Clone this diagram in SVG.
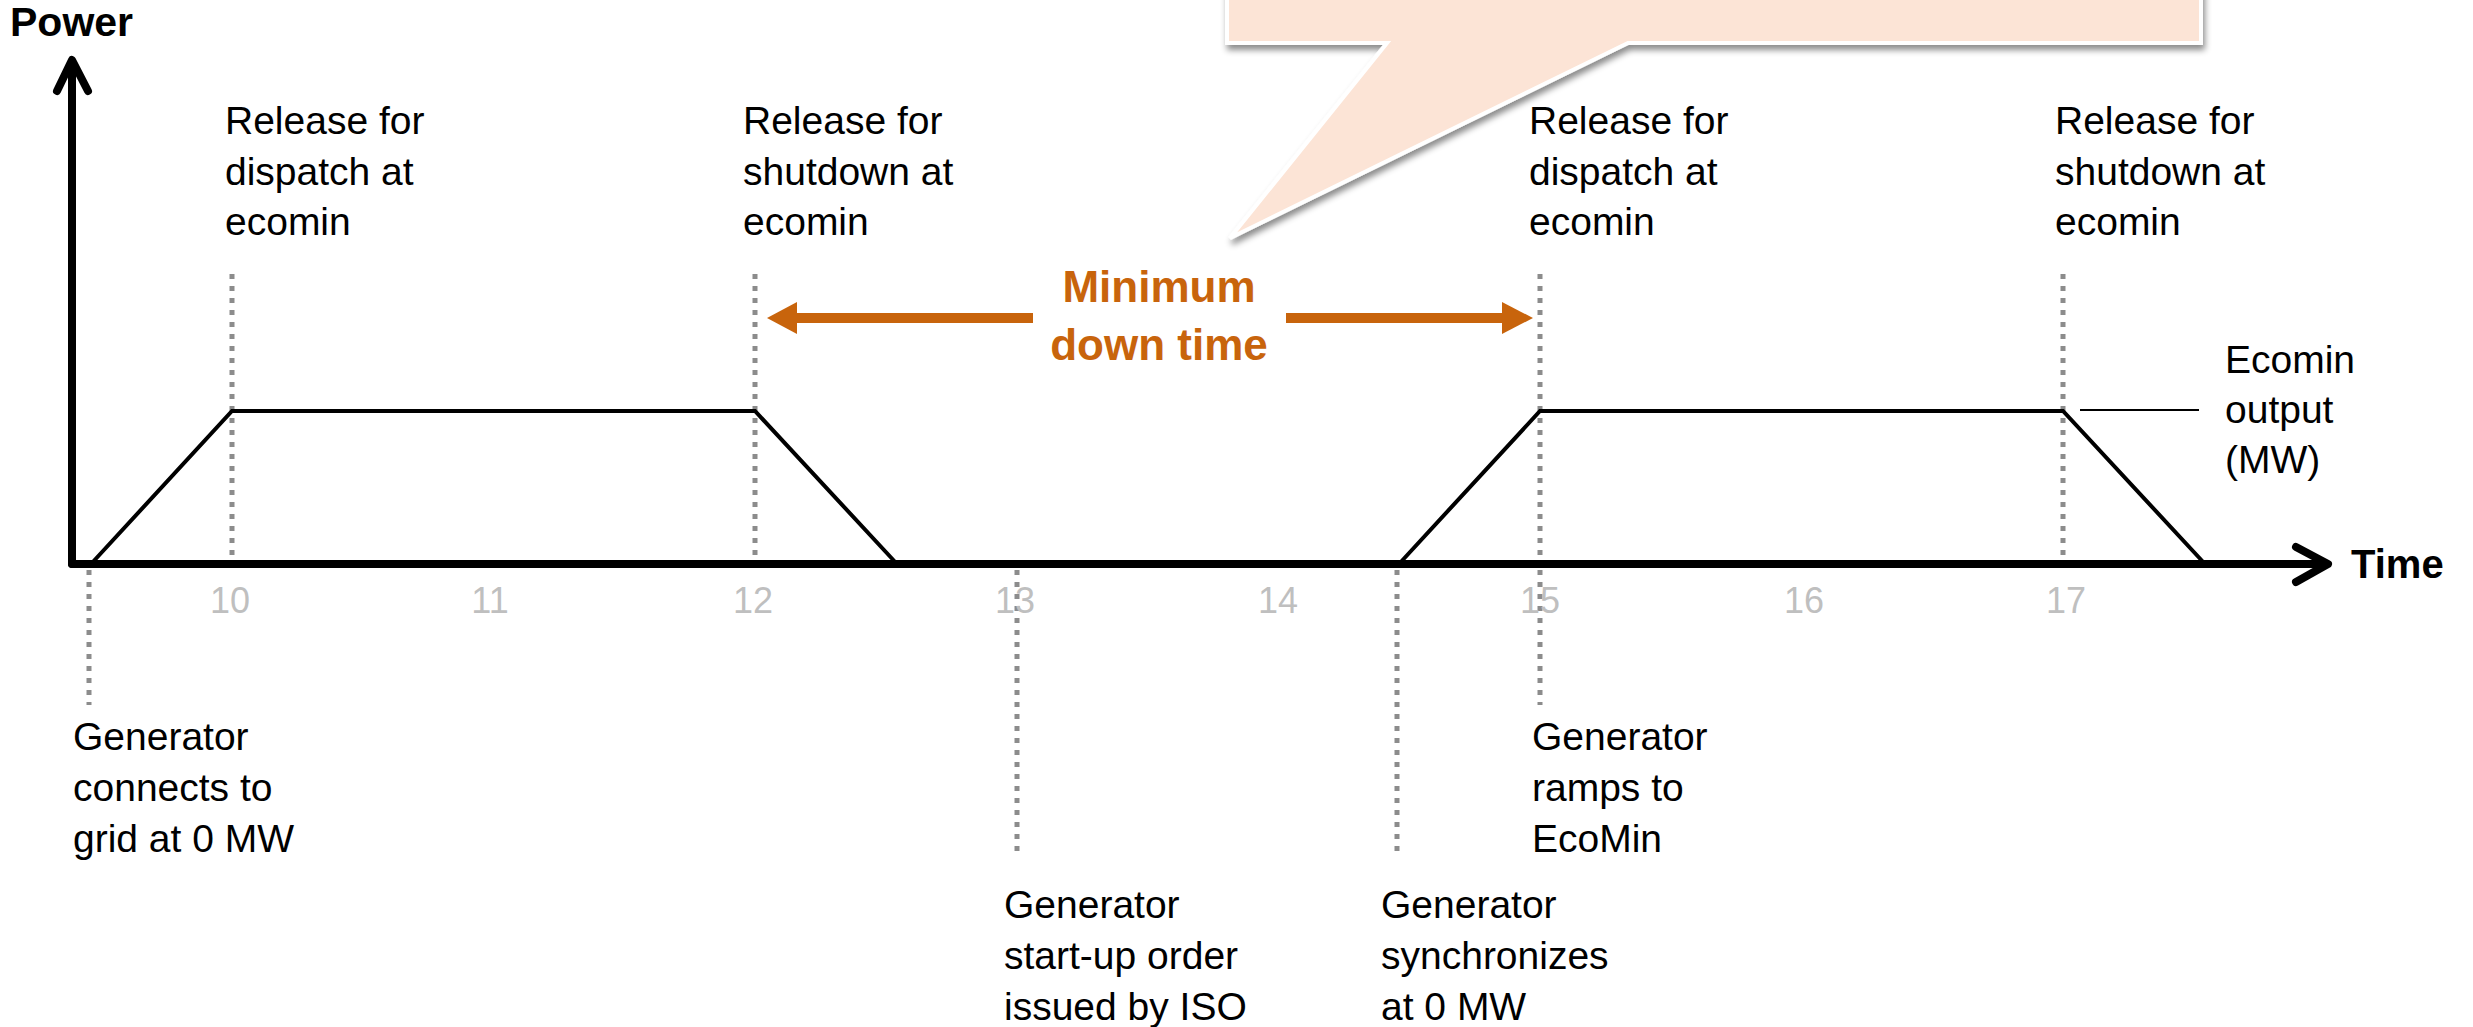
<svg xmlns="http://www.w3.org/2000/svg" width="2473" height="1027" viewBox="0 0 2473 1027">
  <defs>
    <filter id="shadow" x="-5%" y="-20%" width="115%" height="150%">
      <feDropShadow dx="2" dy="5" stdDeviation="3" flood-color="#000000" flood-opacity="0.45"/>
    </filter>
  </defs>
  <style>
    .lbl { font-family: "Liberation Sans", Arial, sans-serif; font-size: 39px; fill: #000000; }
    .axt { font-family: "Liberation Sans", Arial, sans-serif; font-size: 41px; font-weight: bold; fill: #000000; }
    .num { font-family: "Liberation Sans", Arial, sans-serif; font-size: 36px; fill: #BFBFBF; text-anchor: middle; }
    .mdt { font-family: "Liberation Sans", Arial, sans-serif; font-size: 44px; font-weight: bold; fill: #C8640C; text-anchor: middle; }
    .dot { stroke: #8C8C8C; stroke-width: 5; stroke-dasharray: 5 7; fill: none; }
    .axis { stroke: #000000; stroke-width: 8; fill: none; stroke-linecap: round; stroke-linejoin: round; }
    .trace { stroke: #000000; stroke-width: 4; fill: none; stroke-linejoin: miter; }
    .orange { fill: #C8640C; }
  </style>
  <rect x="0" y="0" width="2473" height="1027" fill="#FFFFFF"/>

  <!-- Callout -->
  <g id="callout">
    <path d="M1227,-10 H2201 V43 H1628 L1230,238 L1387,43 H1227 Z" fill="#FCE4D6" stroke="#FFFFFF" stroke-width="4" stroke-linejoin="miter" filter="url(#shadow)"/>
  </g>

  <!-- Dotted guide lines -->
  <g id="guides">
    <line class="dot" x1="232" y1="274" x2="232" y2="560"/>
    <line class="dot" x1="755" y1="274" x2="755" y2="560"/>
    <line class="dot" x1="1540" y1="274" x2="1540" y2="560"/>
    <line class="dot" x1="2063" y1="274" x2="2063" y2="560"/>
    <line class="dot" x1="89" y1="570" x2="89" y2="705"/>
    <line class="dot" x1="1017" y1="570" x2="1017" y2="852"/>
    <line class="dot" x1="1397" y1="570" x2="1397" y2="852"/>
    <line class="dot" x1="1540" y1="570" x2="1540" y2="705"/>
  </g>

  <!-- Axes -->
  <g id="axes">
    <line class="axis" x1="72" y1="564" x2="72" y2="62"/>
    <polyline class="axis" points="57,91 72,60 88,91"/>
    <line class="axis" x1="72" y1="564" x2="2326" y2="564"/>
    <polyline class="axis" points="2296,547 2328,564 2296,582"/>
    <text class="axt" x="10" y="36">Power</text>
    <text class="axt" x="2351" y="578" style="font-size:40px">Time</text>
  </g>

  <!-- Power trace -->
  <g id="trace">
    <polyline class="trace" points="91,564 232,411 755,411 897,564"/>
    <polyline class="trace" points="1399,564 1540,411 2063,411 2205,564"/>
    <line x1="2080" y1="410" x2="2199" y2="410" stroke="#000000" stroke-width="2"/>
  </g>

  <!-- Tick labels -->
  <g id="ticks">
    <text class="num" x="230" y="613">10</text>
    <text class="num" x="490" y="613">11</text>
    <text class="num" x="753" y="613">12</text>
    <text class="num" x="1015" y="613">13</text>
    <text class="num" x="1278" y="613">14</text>
    <text class="num" x="1540" y="613">15</text>
    <text class="num" x="1804" y="613">16</text>
    <text class="num" x="2066" y="613">17</text>
  </g>

  <!-- Minimum down time -->
  <g id="min-down-time">
    <rect class="orange" x="795" y="313" width="238" height="10"/>
    <polygon class="orange" points="767,318 797,302 797,334"/>
    <rect class="orange" x="1286" y="313" width="218" height="10"/>
    <polygon class="orange" points="1533,318 1502,302 1502,334"/>
    <text class="mdt" x="1159" y="302">Minimum</text>
    <text class="mdt" x="1159" y="360">down time</text>
  </g>

  <!-- Top labels -->
  <g id="label-dispatch-1">
    <text class="lbl" x="225" y="134">Release for</text>
    <text class="lbl" x="225" y="185">dispatch at</text>
    <text class="lbl" x="225" y="235">ecomin</text>
  </g>
  <g id="label-shutdown-1">
    <text class="lbl" x="743" y="134">Release for</text>
    <text class="lbl" x="743" y="185">shutdown at</text>
    <text class="lbl" x="743" y="235">ecomin</text>
  </g>
  <g id="label-dispatch-2">
    <text class="lbl" x="1529" y="134">Release for</text>
    <text class="lbl" x="1529" y="185">dispatch at</text>
    <text class="lbl" x="1529" y="235">ecomin</text>
  </g>
  <g id="label-shutdown-2">
    <text class="lbl" x="2055" y="134">Release for</text>
    <text class="lbl" x="2055" y="185">shutdown at</text>
    <text class="lbl" x="2055" y="235">ecomin</text>
  </g>
  <g id="label-ecomin-output">
    <text class="lbl" x="2225" y="373">Ecomin</text>
    <text class="lbl" x="2225" y="423">output</text>
    <text class="lbl" x="2225" y="473">(MW)</text>
  </g>

  <!-- Bottom labels -->
  <g id="label-connects">
    <text class="lbl" x="73" y="750">Generator</text>
    <text class="lbl" x="73" y="801">connects to</text>
    <text class="lbl" x="73" y="852">grid at 0 MW</text>
  </g>
  <g id="label-startup-order">
    <text class="lbl" x="1004" y="918">Generator</text>
    <text class="lbl" x="1004" y="969">start-up order</text>
    <text class="lbl" x="1004" y="1020">issued by ISO</text>
  </g>
  <g id="label-synchronizes">
    <text class="lbl" x="1381" y="918">Generator</text>
    <text class="lbl" x="1381" y="969">synchronizes</text>
    <text class="lbl" x="1381" y="1020">at 0 MW</text>
  </g>
  <g id="label-ramps">
    <text class="lbl" x="1532" y="750">Generator</text>
    <text class="lbl" x="1532" y="801">ramps to</text>
    <text class="lbl" x="1532" y="852">EcoMin</text>
  </g>
</svg>
